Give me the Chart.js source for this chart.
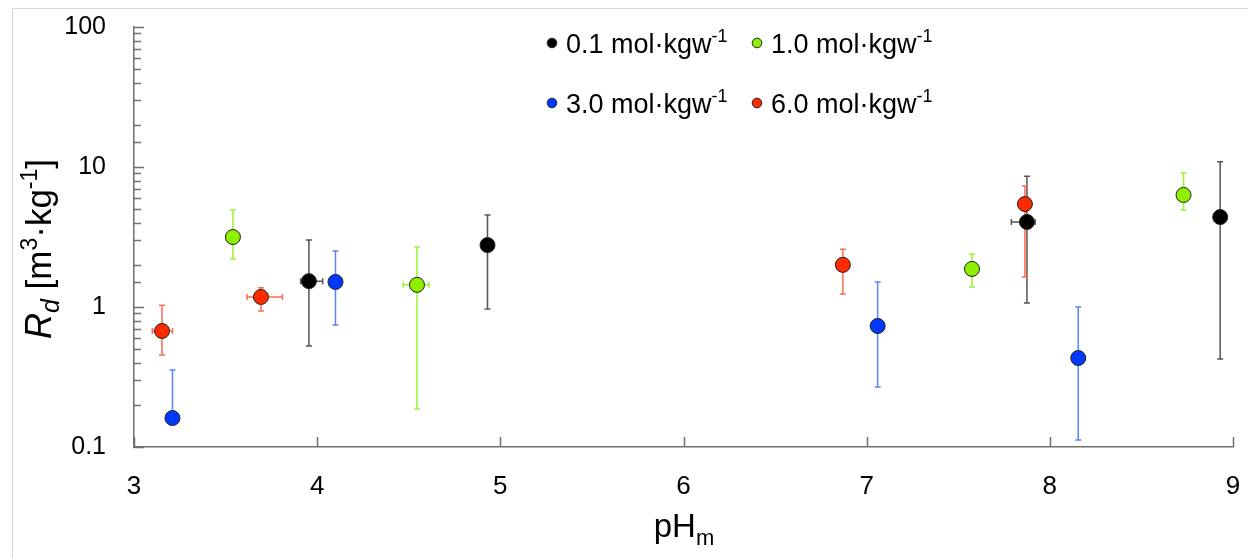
<!DOCTYPE html>
<html>
<head>
<meta charset="utf-8">
<script src="https://cdn.jsdelivr.net/npm/chart.js@4.4.1/dist/chart.umd.min.js"></script>
<style>
  html, body { margin: 0; padding: 0; background: #fff; }
  #wrap { width: 1248px; height: 558px; }
</style>
</head>
<body>
<div id="wrap"><canvas id="grafico" width="1248" height="558"></canvas></div>
<script>
// 0.1 mol/kgw
const ph01 = [3.955, 4.93, 7.875, 8.93];
const rd01 = [1.53, 2.77, 4.05, 4.39];
const rd01Lo = [0.527, 0.967, 1.07, 0.425];
const rd01Hi = [3.01, 4.54, 8.6, 10.9];
const ph01Lo = [3.91, null, 7.79, null];
const ph01Hi = [4.03, null, 7.92, null];

// 1.0 mol/kgw
const ph10 = [3.54, 4.545, 7.575, 8.73];
const rd10 = [3.16, 1.44, 1.87, 6.31];
const rd10Lo = [2.2, 0.187, 1.39, 4.93];
const rd10Hi = [4.93, 2.68, 2.39, 9.06];
const ph10Lo = [null, 4.47, null, null];
const ph10Hi = [null, 4.61, null, null];

// 3.0 mol/kgw
const ph30 = [3.21, 4.10, 7.06, 8.155];
const rd30 = [0.161, 1.51, 0.732, 0.432];
const rd30Lo = [0.161, 0.744, 0.268, 0.112];
const rd30Hi = [0.355, 2.51, 1.51, 1.0];
const ph30Lo = [null, null, null, null];
const ph30Hi = [null, null, null, null];

// 6.0 mol/kgw
const ph60 = [3.153, 3.693, 6.87, 7.864];
const rd60 = [0.674, 1.18, 2.0, 5.44];
const rd60Lo = [0.454, 0.936, 1.24, 1.64];
const rd60Hi = [1.03, 1.37, 2.59, 7.33];
const ph60Lo = [3.10, 3.617, null, null];
const ph60Hi = [3.21, 3.81, null, null];

const rotulos = ['0.1', '1.0', '3.0', '6.0'];
const cores = ['#000000', '#8cf000', '#0038ff', '#ff2a00'];
const coresErro = ['#555555', '#9cf23a', '#5a85ff', '#ff6a50'];

const fonte = '"Liberation Sans", Arial, Helvetica, sans-serif';

function montarSerie(i, ph, rd, lo, hi, xlo, xhi) {
    return {
        label: rotulos[i] + ' mol·kgw-1',
        data: ph.map((x, k) => ({ x: x, y: rd[k], lo: lo[k], hi: hi[k], xlo: xlo[k], xhi: xhi[k] })),
        backgroundColor: cores[i],
        borderColor: '#222',
        borderWidth: 1,
        pointRadius: 7.5,
        errColor: coresErro[i]
    };
}

// draws text pieces with sub/superscripts, centered on x
function textoRico(ctx, x, y, partes) {
    let total = 0;
    partes.forEach(p => {
        ctx.font = (p.italic ? 'italic ' : '') + p.size + 'px ' + fonte;
        p.w = ctx.measureText(p.t).width;
        total += p.w;
    });
    let cx = x - total / 2;
    ctx.textAlign = 'left';
    ctx.textBaseline = 'alphabetic';
    partes.forEach(p => {
        ctx.font = (p.italic ? 'italic ' : '') + p.size + 'px ' + fonte;
        ctx.fillText(p.t, cx, y + (p.dy || 0));
        cx += p.w;
    });
}

function textoEsq(ctx, x, y, partes) {
    let cx = x;
    ctx.textAlign = 'left';
    ctx.textBaseline = 'alphabetic';
    partes.forEach(p => {
        ctx.font = (p.italic ? 'italic ' : '') + p.size + 'px ' + fonte;
        ctx.fillText(p.t, cx, y + (p.dy || 0));
        cx += ctx.measureText(p.t).width;
    });
}

const pluginExtras = {
    id: 'extras',
    beforeDraw(chart) {
        const ctx = chart.ctx;
        ctx.save();
        ctx.fillStyle = '#fff';
        ctx.fillRect(0, 0, chart.width, chart.height);
        ctx.strokeStyle = '#d8d8d8';
        ctx.lineWidth = 1;
        ctx.beginPath();
        ctx.moveTo(12.5, chart.height);
        ctx.lineTo(12.5, 8.5);
        ctx.lineTo(chart.width, 8.5);
        ctx.stroke();
        ctx.restore();
    },
    beforeDatasetsDraw(chart) {
        const ctx = chart.ctx;
        const xs = chart.scales.x, ys = chart.scales.y;
        ctx.save();
        // ticks inside the axes
        ctx.strokeStyle = '#707070';
        ctx.lineWidth = 1.5;
        const area = chart.chartArea;
        ys.ticks.forEach(t => {
            const py = Math.round(ys.getPixelForValue(t.value)) + 0.5;
            const maior = Math.abs(Math.log10(t.value) - Math.round(Math.log10(t.value))) < 1e-6;
            ctx.beginPath();
            ctx.moveTo(area.left, py);
            ctx.lineTo(area.left + (maior ? 10 : 7), py);
            ctx.stroke();
        });
        xs.ticks.forEach(t => {
            const px = Math.round(xs.getPixelForValue(t.value)) + 0.5;
            ctx.beginPath();
            ctx.moveTo(px, area.bottom);
            ctx.lineTo(px, area.bottom - 10);
            ctx.stroke();
        });
        // error bars
        chart.data.datasets.forEach(ds => {
            ctx.strokeStyle = ds.errColor;
            ctx.lineWidth = 1.5;
            ds.data.forEach(p => {
                const px = xs.getPixelForValue(p.x);
                const py = ys.getPixelForValue(p.y);
                const top = ys.getPixelForValue(p.hi);
                const bot = ys.getPixelForValue(p.lo);
                ctx.beginPath();
                ctx.moveTo(px, top); ctx.lineTo(px, bot);
                ctx.moveTo(px - 3, top); ctx.lineTo(px + 3, top);
                if (p.lo !== p.y) { ctx.moveTo(px - 3, bot); ctx.lineTo(px + 3, bot); }
                if (p.xlo != null) {
                    const l = xs.getPixelForValue(p.xlo);
                    ctx.moveTo(l, py); ctx.lineTo(px, py);
                    ctx.moveTo(l, py - 3); ctx.lineTo(l, py + 3);
                }
                if (p.xhi != null) {
                    const r = xs.getPixelForValue(p.xhi);
                    ctx.moveTo(px, py); ctx.lineTo(r, py);
                    ctx.moveTo(r, py - 3); ctx.lineTo(r, py + 3);
                }
                ctx.stroke();
            });
        });
        ctx.restore();
    },
    afterDraw(chart) {
        const ctx = chart.ctx;
        ctx.save();
        ctx.fillStyle = '#000';
        // x title
        textoRico(ctx, 684, 537, [
            { t: 'pH', size: 33 },
            { t: 'm', size: 22, dy: 8 }
        ]);
        // y title
        ctx.translate(51, 249);
        ctx.rotate(-Math.PI / 2);
        textoRico(ctx, 0, 0, [
            { t: 'R', size: 36, italic: true },
            { t: 'd', size: 25, italic: true, dy: 8 },
            { t: ' [m', size: 35 },
            { t: '3', size: 23, dy: -14 },
            { t: '·kg', size: 35 },
            { t: '-1', size: 23, dy: -14 },
            { t: ']', size: 35 }
        ]);
        ctx.restore();

        // legend 2x2
        ctx.save();
        const posX = [552, 757];
        const posY = [43, 103];
        chart.data.datasets.forEach((ds, i) => {
            const mx = posX[i % 2], my = posY[Math.floor(i / 2)];
            ctx.beginPath();
            ctx.arc(mx, my, 4.8, 0, Math.PI * 2);
            ctx.fillStyle = cores[i];
            ctx.fill();
            ctx.strokeStyle = '#222';
            ctx.lineWidth = 1;
            ctx.stroke();
            ctx.fillStyle = '#000';
            textoEsq(ctx, mx + 14, my + 10, [
                { t: rotulos[i] + ' mol·kgw', size: 27 },
                { t: '-1', size: 18, dy: -11 }
            ]);
        });
        ctx.restore();
    }
};

new Chart(document.getElementById('grafico'), {
    type: 'scatter',
    data: {
        datasets: [
            montarSerie(0, ph01, rd01, rd01Lo, rd01Hi, ph01Lo, ph01Hi),
            montarSerie(1, ph10, rd10, rd10Lo, rd10Hi, ph10Lo, ph10Hi),
            montarSerie(2, ph30, rd30, rd30Lo, rd30Hi, ph30Lo, ph30Hi),
            montarSerie(3, ph60, rd60, rd60Lo, rd60Hi, ph60Lo, ph60Hi)
        ]
    },
    options: {
        responsive: false,
        animation: false,
        devicePixelRatio: 1,
        layout: { padding: { left: 0, right: 15, top: 27, bottom: 0 } },
        plugins: {
            legend: { display: false },
            tooltip: { enabled: false }
        },
        scales: {
            x: {
                type: 'linear',
                min: 3,
                max: 9,
                ticks: {
                    stepSize: 1,
                    padding: 0,
                    color: '#000',
                    font: { family: fonte, size: 26 }
                },
                grid: { display: true, drawOnChartArea: false, drawTicks: true, tickLength: 24, tickColor: 'rgba(0,0,0,0)' },
                border: { display: true, color: '#707070', width: 1.5 },
                afterFit: s => { s.height = 111; }
            },
            y: {
                type: 'logarithmic',
                min: 0.1,
                max: 100,
                ticks: {
                    autoSkip: false,
                    padding: 0,
                    color: '#000',
                    font: { family: fonte, size: 25 },
                    callback: v => {
                        const l = Math.log10(v);
                        if (Math.abs(l - Math.round(l)) > 1e-6) return '';
                        return String(Math.pow(10, Math.round(l)).toFixed(Math.max(0, -Math.round(l))));
                    }
                },
                grid: { display: true, drawOnChartArea: false, drawTicks: true, tickLength: 28, tickColor: 'rgba(0,0,0,0)' },
                border: { display: true, color: '#707070', width: 1.5 },
                afterFit: s => { s.width = 134; }
            }
        }
    },
    plugins: [pluginExtras]
});
</script>
</body>
</html>
